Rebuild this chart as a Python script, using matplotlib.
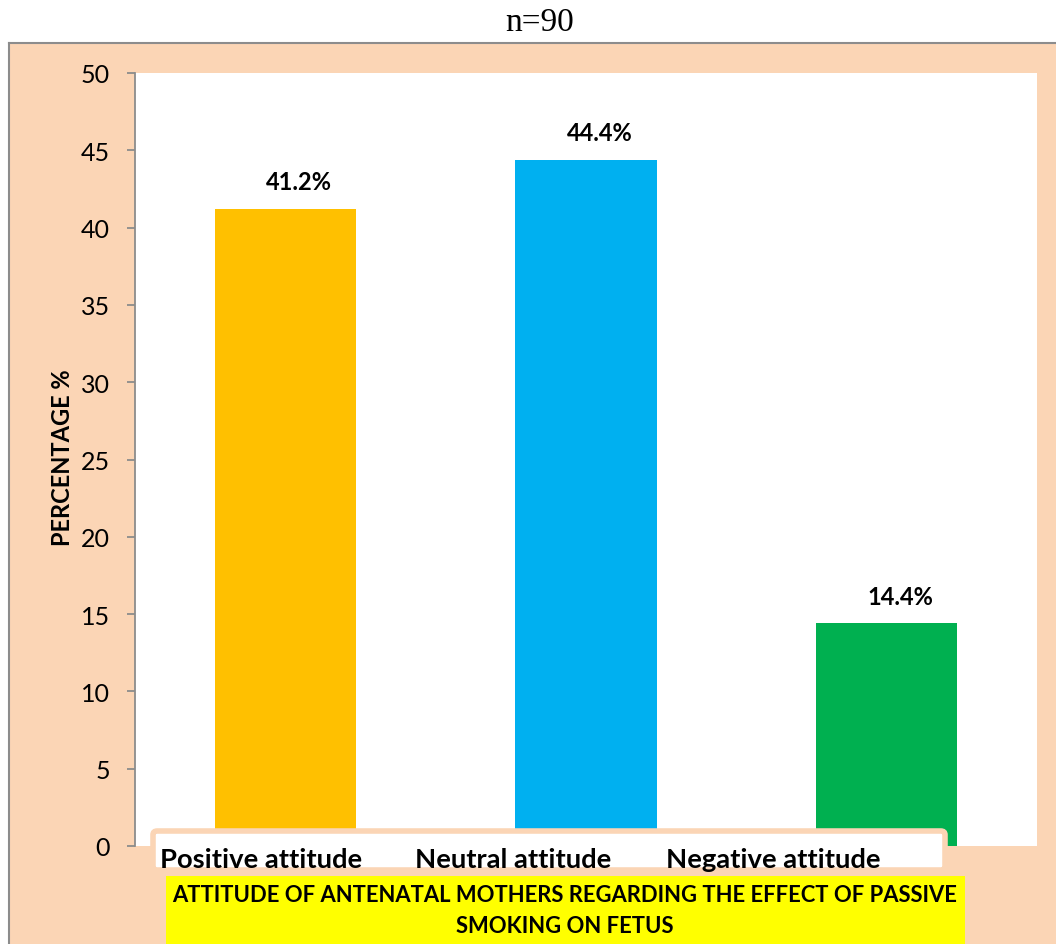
import matplotlib
matplotlib.use("Agg")
import matplotlib.pyplot as plt
from matplotlib.patches import Rectangle, FancyBboxPatch

categories = ["Positive attitude", "Neutral attitude", "Negative attitude"]
values = [41.2, 44.4, 14.4]
value_labels = ["41.2%", "44.4%", "14.4%"]
bar_colors = ["#FFC000", "#00B0F0", "#00B050"]
yticks = [0, 5, 10, 15, 20, 25, 30, 35, 40, 45, 50]
title = "n=90"
ylabel = "PERCENTAGE %"
xlabel = "ATTITUDE OF ANTENATAL MOTHERS REGARDING THE EFFECT OF PASSIVE\nSMOKING ON FETUS"

W, H = 1056, 945
PEACH = "#FBD5B5"
GRAY = "#8C8C8C"
SANS = ["Lato", "DejaVu Sans"]

fig = plt.figure(figsize=(W / 100, H / 100), dpi=100, facecolor="white")

def fx(px):
    return px / W

def fy(py):
    return 1 - py / H

# peach chart area with grey frame on top and left
fig.add_artist(Rectangle((fx(9), 0), 1 - fx(9), fy(44), transform=fig.transFigure,
                         facecolor=PEACH, edgecolor="none", zorder=-2))
fig.add_artist(plt.Line2D([fx(9), 1], [fy(44), fy(44)], transform=fig.transFigure,
                          color=GRAY, lw=1.5, zorder=-1))
fig.add_artist(plt.Line2D([fx(9), fx(9)], [0, fy(44)], transform=fig.transFigure,
                          color=GRAY, lw=1.5, zorder=-1))

ax = fig.add_axes([fx(135), fy(847), fx(1037) - fx(135), (847 - 74) / H])
ax.set_facecolor("white")
x = list(range(len(categories)))
ax.bar(x, values, width=0.47, color=bar_colors, zorder=2)
ax.set_xlim(-0.5, len(categories) - 0.5)
ax.set_ylim(0, 50)
ax.set_yticks(yticks)
ax.set_yticklabels([str(t) for t in yticks], fontfamily=SANS, fontsize=18)
ax.set_xticks([])
ax.tick_params(axis="y", color=GRAY, length=6, width=1.3, pad=12)
for s in ["top", "right", "bottom"]:
    ax.spines[s].set_visible(False)
ax.spines["left"].set_color(GRAY)
ax.spines["left"].set_linewidth(1.3)

for xi, v, lab in zip(x, values, value_labels):
    ax.annotate(lab, (xi, v), xytext=(10, 19.5), textcoords="offset points",
                ha="center", va="center", fontfamily=SANS, fontweight="bold",
                fontsize=17)

fig.text(fx(540), fy(23), title, ha="center", va="center",
         fontfamily=["Liberation Serif", "DejaVu Serif"], fontsize=24)
fig.text(fx(62), fy(458), ylabel, ha="center", va="center", rotation=90,
         fontfamily=SANS, fontweight="bold", fontsize=17)

# category label box
fig.add_artist(FancyBboxPatch((fx(153), fy(871)), fx(945) - fx(153), (871 - 832) / H,
                              boxstyle="round,pad=0,rounding_size=0.004",
                              transform=fig.transFigure, facecolor="white",
                              edgecolor=PEACH, lw=4, zorder=5))
label_x = [261, 513, 773]
for px, cat in zip(label_x, categories):
    fig.text(fx(px), fy(860), cat, ha="center", va="center", fontfamily=SANS,
             fontweight="bold", fontsize=19.7, zorder=6)

# highlighted axis title
fig.add_artist(Rectangle((fx(166), 0), fx(965) - fx(166), fy(877),
                         transform=fig.transFigure, facecolor="#FFFF00",
                         edgecolor="none", zorder=5))
fig.text(fx(565), fy(911), xlabel, ha="center", va="center", fontfamily=SANS,
         fontweight="bold", fontsize=15.8, linespacing=1.6, zorder=6)

fig.savefig("out.png", dpi=100, facecolor="white")
